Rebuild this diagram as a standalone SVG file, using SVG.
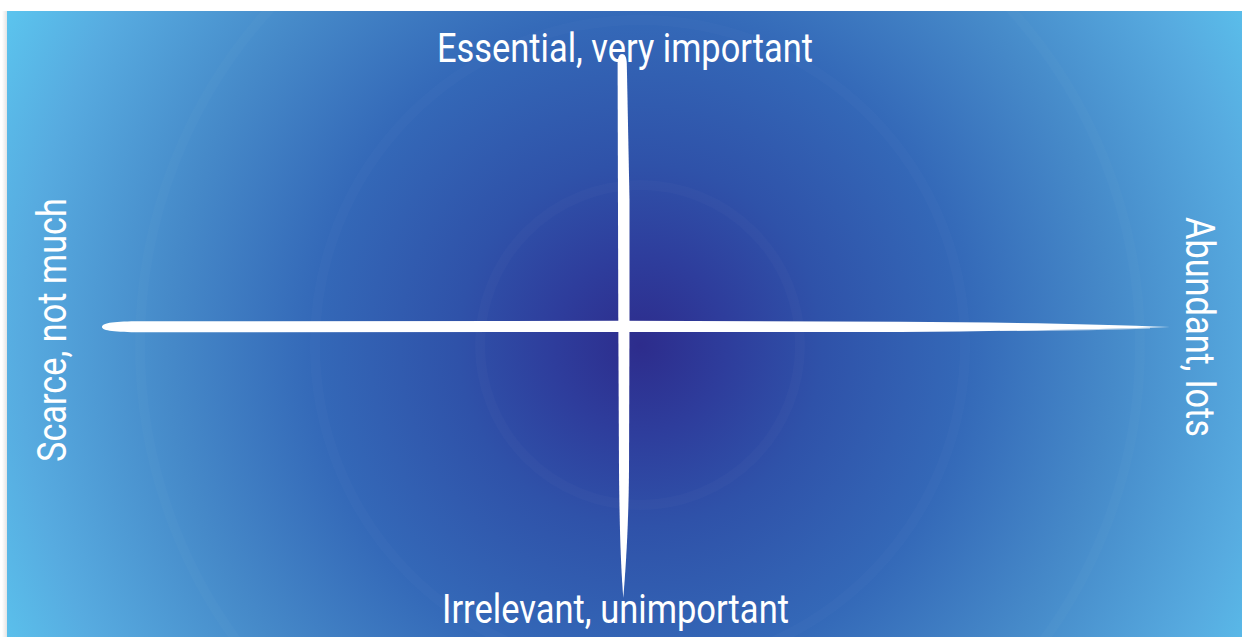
<svg xmlns="http://www.w3.org/2000/svg" width="1242" height="637" viewBox="0 0 1242 637">
  <defs>
    <radialGradient id="bg" gradientUnits="userSpaceOnUse" cx="640" cy="345" r="730">
      <stop offset="0" stop-color="#2D2C8C"/>
      <stop offset="0.12" stop-color="#2E3D9C"/>
      <stop offset="0.25" stop-color="#2F52A9"/>
      <stop offset="0.45" stop-color="#3469B8"/>
      <stop offset="0.65" stop-color="#468AC9"/>
      <stop offset="0.85" stop-color="#57ABE0"/>
      <stop offset="1" stop-color="#5CC8F0"/>
    </radialGradient>
    <linearGradient id="shadow" x1="0" y1="0" x2="1" y2="0">
      <stop offset="0" stop-color="#ffffff"/>
      <stop offset="1" stop-color="#e4e4e4"/>
    </linearGradient>
    <style>
      .lbl { font-family: Roboto, "Liberation Sans", sans-serif; font-size: 41px; fill: #ffffff; }
      .ring { fill: none; stroke: #ffffff; stroke-opacity: 0.02; stroke-width: 10; }
      .brush { fill: #ffffff; }
    </style>
  </defs>
  <rect x="0" y="0" width="1242" height="637" fill="#ffffff"/>
  <rect x="2" y="11" width="5" height="626" fill="url(#shadow)"/>
  <rect x="7" y="11" width="1235" height="626" fill="url(#bg)"/>
  <g id="rings">
    <circle class="ring" cx="640" cy="345" r="160"/>
    <circle class="ring" cx="640" cy="345" r="325"/>
    <circle class="ring" cx="640" cy="345" r="500"/>
  </g>
  <g id="connectors">
    <path class="brush" d="M102,327 C102,322.5 116,321.5 140,321.3 L620,320.8 L900,321.8 C1000,322.3 1100,324 1170,327 C1100,329 1000,331.5 900,332 L620,332 L140,332.3 C116,332 102,331 102,327 Z"/>
    <path class="brush" d="M1000,329.5 C1060,329.5 1110,328.5 1150,327.5 L1150,328.5 C1110,330 1060,331 1000,331 Z" opacity="0.6"/>
    <path class="brush" d="M617.6,64 C617.6,57 619.5,54 622,54 C625,54 626.6,57 626.8,64 L629.5,200 L629.5,320 L629,470 C628.5,530 625.5,570 623.3,598 C621,570 619.5,530 619,470 L618.3,320 Z"/>
  </g>
  <g id="node-top">
    <text class="lbl" x="437" y="62" textLength="376" lengthAdjust="spacingAndGlyphs">Essential, very important</text>
  </g>
  <g id="node-bottom">
    <text class="lbl" x="442" y="623" textLength="347" lengthAdjust="spacingAndGlyphs">Irrelevant, unimportant</text>
  </g>
  <g id="node-left">
    <text class="lbl" transform="translate(66,462) rotate(-90)" x="0" y="0" textLength="264" lengthAdjust="spacingAndGlyphs">Scarce, not much</text>
  </g>
  <g id="node-right">
    <text class="lbl" transform="translate(1186,217) rotate(90)" x="0" y="0" textLength="220" lengthAdjust="spacingAndGlyphs">Abundant, lots</text>
  </g>
</svg>
